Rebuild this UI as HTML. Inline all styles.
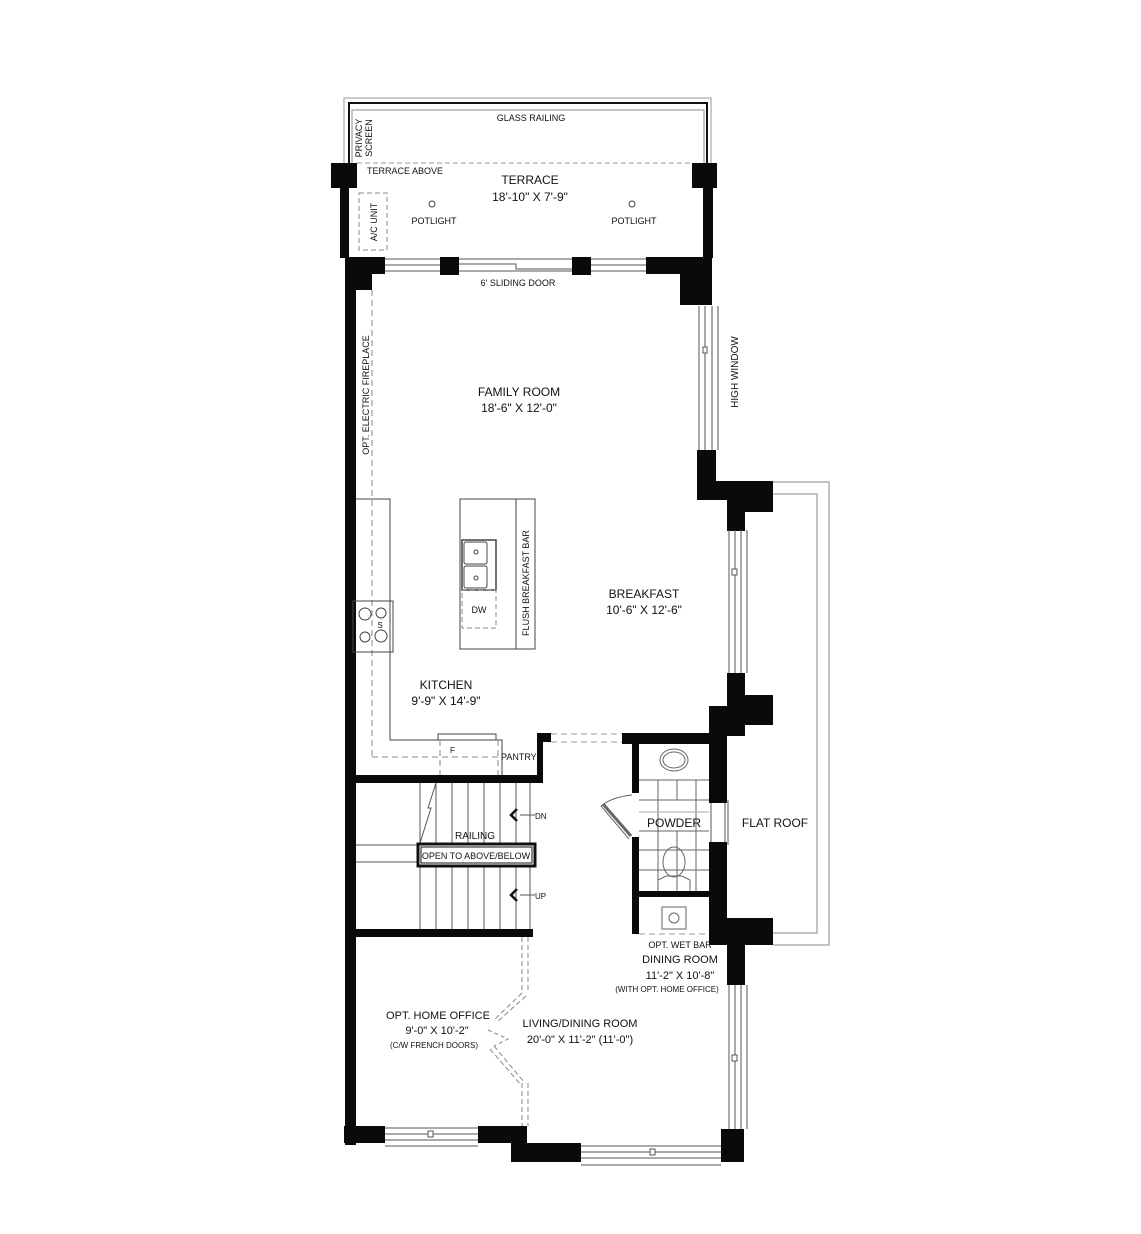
<!DOCTYPE html>
<html><head><meta charset="utf-8">
<style>
html,body{margin:0;padding:0;background:#fff;}
svg{display:block;}
text{font-family:"Liberation Sans",sans-serif;fill:#111;}
</style></head>
<body>
<svg width="1141" height="1234" viewBox="0 0 1141 1234" xmlns="http://www.w3.org/2000/svg">
<!-- Terrace railing -->
<g fill="none">
<path d="M344 165 V98 H711 V165" stroke="#999" stroke-width="1"/>
<path d="M349 165 V103 H707 V165" stroke="#111" stroke-width="2"/>
<path d="M352 165 V110 H704 V165" stroke="#888" stroke-width="1"/>
<line x1="357" y1="163" x2="692" y2="163" stroke="#999" stroke-dasharray="5,3"/>
</g>
<g fill="#0a0a0a">
<!-- terrace piers and walls -->
<rect x="331" y="163" width="26" height="25"/>
<rect x="692" y="163" width="25" height="25"/>
<rect x="340" y="188" width="9" height="70"/>
<rect x="703" y="188" width="10" height="70"/>
<!-- sliding door wall -->
<rect x="345" y="257" width="40" height="17"/>
<rect x="345" y="257" width="27" height="33"/>
<rect x="440" y="257" width="19" height="18"/>
<rect x="572" y="257" width="19" height="18"/>
<rect x="646" y="257" width="54" height="17"/>
<rect x="680" y="257" width="32" height="48"/>
<!-- left main wall -->
<rect x="345" y="257" width="11" height="888"/>
<rect x="344" y="1126" width="41" height="17"/>
<!-- right side -->
<rect x="697" y="450" width="19" height="50"/>
<rect x="697" y="481" width="48" height="19"/>
<rect x="727" y="481" width="18" height="50"/>
<rect x="745" y="481" width="28" height="31"/>
<rect x="727" y="673" width="18" height="35"/>
<rect x="727" y="695" width="46" height="30"/>
<rect x="709" y="706" width="36" height="30"/>
<rect x="709" y="706" width="18" height="97"/>
<rect x="709" y="842" width="18" height="80"/>
<rect x="709" y="918" width="64" height="27"/>
<rect x="727" y="918" width="18" height="67"/>
<rect x="721" y="1129" width="23" height="33"/>
<!-- bottom -->
<rect x="478" y="1126" width="49" height="17"/>
<rect x="511" y="1126" width="16" height="36"/>
<rect x="511" y="1143" width="70" height="19"/>
<!-- kitchen/stair walls -->
<rect x="356" y="775" width="187" height="8"/>
<rect x="537" y="733" width="6" height="50"/>
<rect x="537" y="733" width="14" height="9"/>
<rect x="622" y="733" width="88" height="11"/>
<rect x="632" y="733" width="7" height="60"/>
<rect x="632" y="837" width="7" height="97"/>
<rect x="632" y="891" width="78" height="6"/>
<rect x="346" y="929" width="187" height="8"/>
</g>
<!-- windows -->
<g fill="none" stroke="#555" stroke-width="1">
<path d="M385 259 H440 M385 271 H440 M385 265 H440"/>
<path d="M459 259 H572 M459 264 H516 V269 H572 M459 271 H572"/>
<path d="M591 259 H646 M591 271 H646 M591 265 H646"/>
<path d="M699 306 V450 M712 306 V450 M718 306 V450 M705 306 V450" />
<path d="M729 530 V673 M741 530 V673 M747 530 V673 M735 530 V673"/>
<path d="M729 985 V1129 M741 985 V1129 M747 985 V1129 M735 985 V1129"/>
<path d="M385 1128 H478 M385 1140 H478 M385 1134 H478 M385 1146 H478"/>
<path d="M581 1146 H721 M581 1158 H721 M581 1152 H721 M581 1165 H721"/>
<path d="M711 803 V842 M725 803 V842 M728 800 V845"/>
<path d="M773 482 H829 V945 H773 M773 494 H817 V933 H773" stroke="#888"/>
</g>
<g fill="#fff" stroke="#555" stroke-width="1">
<rect x="703" y="347" width="4" height="6"/><rect x="732" y="569" width="5" height="6"/>
<rect x="732" y="1055" width="5" height="6"/><rect x="428" y="1131" width="5" height="6"/>
<rect x="650" y="1149" width="5" height="6"/>
</g>
<!-- terrace texts -->
<text x="531" y="121" font-size="9" text-anchor="middle">GLASS RAILING</text>
<text transform="translate(362,138) rotate(-90)" font-size="9" text-anchor="middle">PRIVACY</text>
<text transform="translate(372,138) rotate(-90)" font-size="9" text-anchor="middle">SCREEN</text>
<text x="367" y="174" font-size="9">TERRACE ABOVE</text>
<text x="530" y="184" font-size="12" text-anchor="middle">TERRACE</text>
<text x="530" y="201" font-size="12" text-anchor="middle">18'-10" X 7'-9"</text>
<circle cx="432" cy="204" r="3" fill="none" stroke="#444"/>
<circle cx="632" cy="204" r="3" fill="none" stroke="#444"/>
<text x="434" y="224" font-size="9" text-anchor="middle">POTLIGHT</text>
<text x="634" y="224" font-size="9" text-anchor="middle">POTLIGHT</text>
<rect x="359" y="193" width="28" height="57" fill="none" stroke="#888" stroke-dasharray="5,3"/>
<text transform="translate(377,222) rotate(-90)" font-size="9" text-anchor="middle">A/C UNIT</text>
<text x="518" y="286" font-size="9" text-anchor="middle">6' SLIDING  DOOR</text>
<!-- family -->
<line x1="372" y1="290" x2="372" y2="757" stroke="#888" stroke-dasharray="6,4"/>
<text transform="translate(369,395) rotate(-90)" font-size="9" text-anchor="middle">OPT. ELECTRIC FIREPLACE</text>
<text x="519" y="396" font-size="12" text-anchor="middle">FAMILY ROOM</text>
<text x="519" y="412" font-size="12" text-anchor="middle">18'-6" X 12'-0"</text>
<text transform="translate(738,372) rotate(-90)" font-size="10" text-anchor="middle">HIGH WINDOW</text>
<!-- kitchen counters -->
<g fill="none" stroke="#444" stroke-width="1">
<path d="M356 499 H390 V740 H438"/>
<path d="M496 740 H502 V775"/>
<rect x="460" y="499" width="75" height="150"/>
<line x1="516" y1="499" x2="516" y2="649"/>
<rect x="462" y="540" width="34" height="50" stroke-width="1.5"/>
<rect x="464" y="542" width="23" height="22" rx="2"/><rect x="464" y="566" width="23" height="22" rx="2"/>
<circle cx="476" cy="552" r="2"/><circle cx="476" cy="578" r="2"/>
<rect x="353" y="601" width="40" height="51"/>
<circle cx="365" cy="614" r="6"/><circle cx="381" cy="613" r="5"/><circle cx="365" cy="637" r="5"/><circle cx="381" cy="636" r="6"/>
<rect x="438" y="734" width="58" height="6"/>
</g>
<rect x="462" y="590" width="34" height="38" fill="none" stroke="#888" stroke-dasharray="5,3"/>
<path d="M372 757 H498 M440 740 V775 M498 740 V775" fill="none" stroke="#888" stroke-dasharray="6,4"/>
<text x="479" y="613" font-size="9" text-anchor="middle">DW</text>
<text x="380" y="628" font-size="8" text-anchor="middle">S</text>
<text transform="translate(529,583) rotate(-90)" font-size="9" text-anchor="middle">FLUSH BREAKFAST BAR</text>
<text x="644" y="598" font-size="12" text-anchor="middle">BREAKFAST</text>
<text x="644" y="614" font-size="12" text-anchor="middle">10'-6" X 12'-6"</text>
<text x="446" y="689" font-size="12" text-anchor="middle">KITCHEN</text>
<text x="446" y="705" font-size="12" text-anchor="middle">9'-9" X 14'-9"</text>
<text x="450" y="753" font-size="8">F</text>
<text x="501" y="760" font-size="9">PANTRY</text>
<line x1="551" y1="734" x2="622" y2="734" stroke="#999" stroke-dasharray="6,4"/>
<line x1="551" y1="742" x2="622" y2="742" stroke="#999" stroke-dasharray="6,4"/>
<!-- stairs -->
<g stroke="#555" stroke-width="1" fill="none">
<path d="M420 783 V929 M436 783 V929 M452 783 V929 M468 783 V929 M484 783 V929 M500 783 V929 M516 783 V929 M530 783 V929"/>
<path d="M356 845 H417 M356 862 H417"/>
<path d="M436 783 L428 808 L431 808 L420 843"/>
<path d="M520 815 H535 M520 895 H535"/>
<path d="M517 809 L511 815 L517 821 M517 889 L511 895 L517 901" stroke="#111" stroke-width="2.5"/>
</g>
<rect x="418" y="844" width="117" height="22" fill="#fff" stroke="#111" stroke-width="3"/>
<rect x="421" y="847" width="111" height="16" fill="none" stroke="#111" stroke-width="1"/>
<text x="476" y="859" font-size="9" text-anchor="middle">OPEN TO ABOVE/BELOW</text>
<text x="475" y="839" font-size="10" text-anchor="middle">RAILING</text>
<text x="535" y="819" font-size="8">DN</text>
<text x="535" y="899" font-size="8">UP</text>
<!-- powder -->
<g stroke="#666" stroke-width="1" fill="none">
<path d="M639 780 H709 M639 800 H709 M639 831 H709 M639 850 H709 M639 870 H709 M658 780 V891 M677 780 V800 M677 831 V891 M696 780 V891"/>
<path d="M639 812 H709" stroke="#aaa"/>
<ellipse cx="674" cy="760" rx="14" ry="11"/>
<ellipse cx="674" cy="760" rx="11" ry="8"/>
<ellipse cx="674" cy="862" rx="11" ry="15"/>
<path d="M658 891 V880 L666 876 H682 L690 880 V891"/>
<path d="M632 795 Q612 797 601 806 L629 839"/>
<path d="M603 804 L631 836" stroke-width="3"/>
<rect x="662" y="907" width="24" height="22"/>
<circle cx="674" cy="918" r="5"/>
</g>
<line x1="639" y1="934" x2="709" y2="934" stroke="#999" stroke-dasharray="6,4"/>
<text x="674" y="827" font-size="12" text-anchor="middle">POWDER</text>
<text x="775" y="827" font-size="12" text-anchor="middle">FLAT ROOF</text>
<text x="680" y="948" font-size="9" text-anchor="middle">OPT. WET BAR</text>
<text x="680" y="963" font-size="11" text-anchor="middle">DINING ROOM</text>
<text x="680" y="979" font-size="11" text-anchor="middle">11'-2" X 10'-8"</text>
<text x="667" y="992" font-size="8" text-anchor="middle">(WITH OPT. HOME OFFICE)</text>
<!-- office/living -->
<g stroke="#888" fill="none" stroke-dasharray="5,3">
<path d="M522 937 V993 M528 937 V993 M522 1083 V1126 M528 1083 V1126"/>
<path d="M522 993 L494 1020 M526 996 L497 1022"/>
<path d="M490 1049 L521 1085 M494 1046 L524 1082"/>
<path d="M488 1030 L508 1039 L494 1046" stroke-dasharray="4,3"/>
</g>
<text x="438" y="1019" font-size="11" text-anchor="middle">OPT. HOME OFFICE</text>
<text x="437" y="1034" font-size="11" text-anchor="middle">9'-0" X 10'-2"</text>
<text x="434" y="1048" font-size="8" text-anchor="middle">(C/W FRENCH DOORS)</text>
<text x="580" y="1027" font-size="11" text-anchor="middle">LIVING/DINING ROOM</text>
<text x="580" y="1043" font-size="11" text-anchor="middle">20'-0" X 11'-2" (11'-0")</text>
</svg>
</body></html>
